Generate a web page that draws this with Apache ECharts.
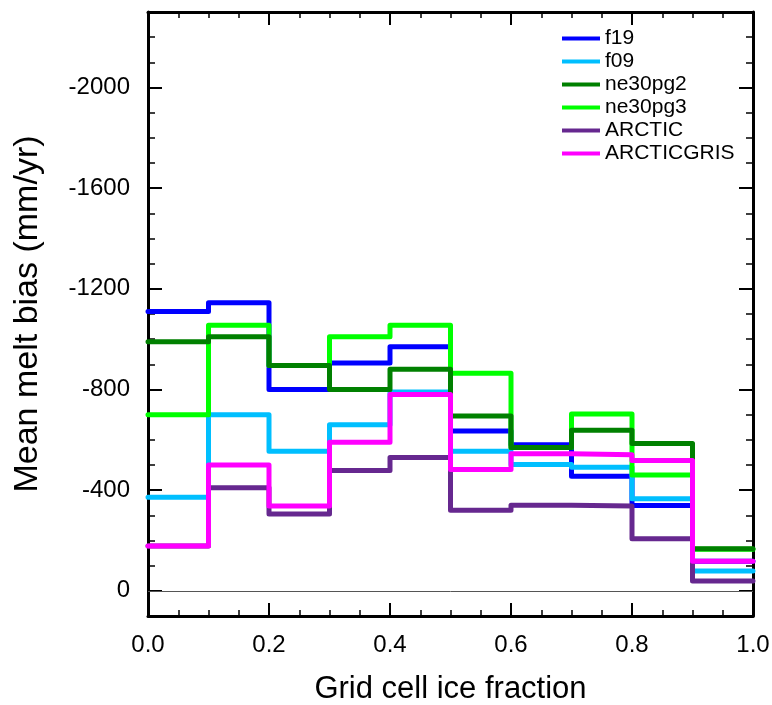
<!DOCTYPE html>
<html>
<head>
<meta charset="utf-8">
<script src="https://cdn.jsdelivr.net/npm/echarts@6/dist/echarts.min.js"></script>
<style>
  html, body { margin: 0; padding: 0; background: #fff; }
  #main { width: 772px; height: 705px; }
</style>
</head>
<body>
<div id="main"></div>
<script>
// bin edges of ice fraction
var binEdges = [0, 0.1, 0.2, 0.3, 0.4, 0.5, 0.6, 0.7, 0.8, 0.9, 1.0];
// mean melt bias per bin (mm/yr)
var f19 = [-1110, -1145, -800, -905, -970, -635, -580, -455, -339, -118];
var f09 = [-372, -700, -555, -660, -790, -555, -502, -491, -366, -79];
var ne30pg2 = [-990, -1010, -895, -800, -880, -695, -570, -638, -585, -167];
var ne30pg3 = [-700, -1055, -895, -1010, -1055, -865, -570, -703, -460, -165];
var arctic = [-178, -410, -305, -478, -530, -320, -340, -337, -207, -39];
var arcticGris = [-178, -500, -337, -590, -780, -482, -545, -541, -518, -118];

var legendNames = ['f19', 'f09', 'ne30pg2', 'ne30pg3', 'ARCTIC', 'ARCTICGRIS'];
var yMajor = [-2000, -1600, -1200, -800, -400, 0];

var font = 'Liberation Sans';

// step data: value of each bin starts at its left edge, last one held to 1.0
function steps(vals) {
  var pts = vals.map(function(v, i) { return [binEdges[i], v]; });
  pts.push([binEdges[binEdges.length - 1], vals[vals.length - 1]]);
  return pts;
}

function line(name, color, vals) {
  return {
    name: name,
    type: 'line',
    step: 'end',
    showSymbol: false,
    symbol: 'none',
    color: color,
    lineStyle: { width: 5, color: color, cap: 'round', join: 'round' },
    data: steps(vals)
  };
}

var chart = echarts.init(document.getElementById('main'));

// major ticks use customValues (min -2300 is not a multiple of 400),
// minor ticks come from a twin axis with interval 100
function yAxisBase(pos, major) {
  var ax = {
    type: 'value',
    position: pos,
    inverse: true,
    min: -2300,
    max: 100,
    splitLine: { show: false },
    axisLine: { show: major, onZero: false, lineStyle: { color: '#000', width: 3 } },
    axisTick: { show: true, inside: true, length: major ? 14 : 7, lineStyle: { color: '#000', width: major ? 2 : 1.5 } },
    axisLabel: { show: false }
  };
  if (major) {
    ax.axisTick.customValues = yMajor;
    ax.axisLabel.customValues = yMajor;
  } else {
    ax.interval = 100;
  }
  return ax;
}

var yLeft = yAxisBase('left', true);
yLeft.axisLabel = {
  show: true,
  customValues: yMajor,
  fontSize: 24,
  fontFamily: font,
  color: '#000',
  margin: 18,
  formatter: function(v) { return String(v); }
};
yLeft.name = 'Mean melt bias (mm/yr)';
yLeft.nameLocation = 'middle';
yLeft.nameGap = 103;
yLeft.nameTextStyle = { fontSize: 34, fontFamily: font, color: '#000' };

function xAxisBase(pos, withLabels) {
  return {
    type: 'value',
    position: pos,
    min: 0,
    max: 1,
    interval: 0.2,
    splitLine: { show: false },
    axisLine: { show: true, onZero: false, lineStyle: { color: '#000', width: 3 } },
    axisTick: { show: true, inside: true, length: 13, lineStyle: { color: '#000', width: 2 } },
    minorTick: { show: true, splitNumber: 4, length: 6, lineStyle: { color: '#000', width: 1.5 } },
    axisLabel: {
      show: withLabels,
      fontSize: 24,
      fontFamily: font,
      color: '#000',
      margin: 17,
      formatter: function(v) { return v.toFixed(1); }
    }
  };
}

var xBottom = xAxisBase('bottom', true);
xBottom.name = 'Grid cell ice fraction';
xBottom.nameLocation = 'middle';
xBottom.nameGap = 58;
xBottom.nameTextStyle = { fontSize: 31, fontFamily: font, color: '#000' };

var series = [
  line('f19', '#0000ff', f19),
  line('f09', '#00bfff', f09),
  line('ne30pg3', '#00ff00', ne30pg3),
  line('ne30pg2', '#008000', ne30pg2),
  line('ARCTIC', '#66288f', arctic),
  line('ARCTICGRIS', '#ff00ff', arcticGris)
];
// thin zero reference line
series[0].markLine = {
  silent: true,
  symbol: 'none',
  label: { show: false },
  lineStyle: { color: '#555', width: 1, type: 'solid' },
  data: [{ yAxis: 0 }]
};

chart.setOption({
  backgroundColor: '#fff',
  animation: false,
  grid: { left: 148, right: 19, top: 12, bottom: 89, outerBoundsMode: 'none' },
  legend: {
    data: legendNames,
    orient: 'vertical',
    left: 562,
    top: 28,
    itemWidth: 38,
    itemHeight: 4,
    itemGap: 2,
    icon: 'rect',
    padding: 0,
    textStyle: { fontSize: 21, fontFamily: font, color: '#000' }
  },
  xAxis: [xBottom, xAxisBase('top', false)],
  yAxis: [yLeft, yAxisBase('left', false), yAxisBase('right', true), yAxisBase('right', false)],
  series: series
});
</script>
</body>
</html>
